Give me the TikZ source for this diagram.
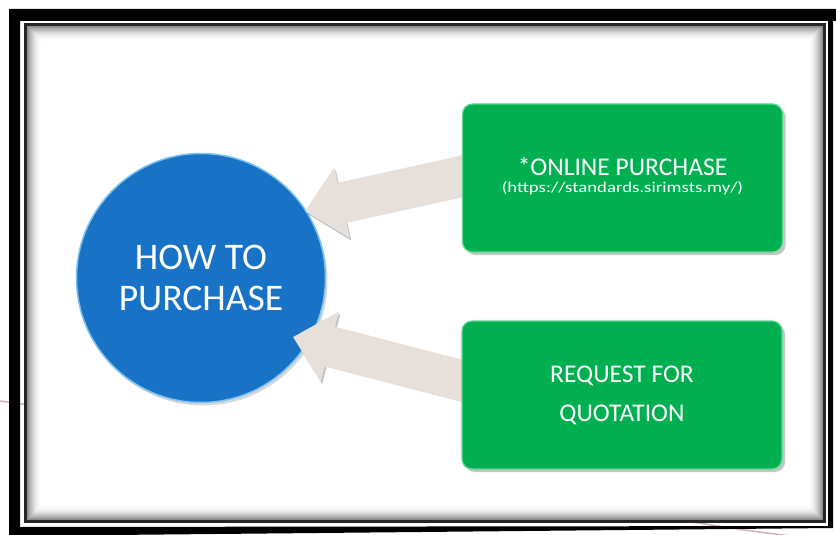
\documentclass[tikz,border=0pt]{standalone}
\usepackage{fontspec}
\setmainfont{Carlito}
\newfontfamily\linkfont[FakeStretch=1.25]{Carlito}
\usetikzlibrary{arrows.meta,shadows}

\definecolor{buyblue}{RGB}{24,114,198}
\definecolor{buyrim}{RGB}{125,195,240}
\definecolor{waygreen}{RGB}{0,176,80}
\definecolor{wayrim}{RGB}{95,215,145}
\definecolor{fatfill}{RGB}{231,223,218}
\definecolor{pinkline}{RGB}{210,175,185}

\pgfdeclarelayer{front}
\pgfsetlayers{main,front}

\begin{document}
\begin{tikzpicture}[x=1pt, y=-1pt,
    hub/.style={circle, fill=buyblue, draw=buyrim, line width=1.5pt, minimum size=249pt, inner sep=0pt,
        text=white, align=center, font=\fontsize{37.6}{41}\selectfont,
        drop shadow={shadow xshift=2pt, shadow yshift=-3pt, opacity=0.3}},
    way/.style={rectangle, rounded corners=10pt, fill=waygreen, draw=wayrim, line width=1.2pt,
        minimum width=320pt, minimum height=148pt, text=white, align=center,
        font=\fontsize{25.5}{39}\selectfont,
        drop shadow={shadow xshift=3pt, shadow yshift=-3pt, opacity=0.45}},
    fat/.style={line width=41pt, draw=fatfill, -{Triangle[length=38pt, width=70pt]},
        preaction={draw=black!50, opacity=0.45, transform canvas={shift={(1.5pt,-2.5pt)}}}}
]

    \fill[white] (0,0) rectangle (836,535);
    \useasboundingbox (0,0) rectangle (836,535);

    % frame of the slide
    \draw[pinkline, line width=1.5pt] (0,401) .. controls (300,440) and (600,515) .. (800,537);
    \fill[black, even odd rule] (9,9) -- (836,9) -- (836,21) -- (833,21) -- (833,528) -- (9,536) -- cycle
        (20,21) -- (828,21) -- (828,526) -- (20,527) -- cycle;
    \draw[black!85, line width=3pt] (25,24.5) rectangle (824.5,521.5);
    \fill[white] (26.5,26) rectangle (823,520);
    \foreach \i [evaluate=\i as \op using {0.45*(1-\i/15)*(1-\i/15)}] in {0,...,14}
        \draw[black, opacity=\op, line width=1pt] (27+\i,26.5+\i) rectangle (822.5-\i,519.5-\i);

    \node[hub] (buy) at (201,278) {HOW TO\\PURCHASE};

    \begin{pgfonlayer}{front}
    \node[way, text depth=6pt] (online) at (622.5,178) {*ONLINE PURCHASE\\[-22pt]{\linkfont\fontsize{15}{15}\selectfont (https://standards.sirimsts.my/)}};
    \node[way] (quote) at (622,395) {REQUEST FOR\\QUOTATION};
    \end{pgfonlayer}

    \coordinate (tip1) at (305,211);
    \coordinate (tip2) at (293,337);
    \draw[fat] ([xshift=20pt,yshift=6pt]online.west) -- (tip1);
    \draw[fat] ([xshift=20pt,yshift=9pt]quote.west) -- (tip2);

\end{tikzpicture}
\end{document}
